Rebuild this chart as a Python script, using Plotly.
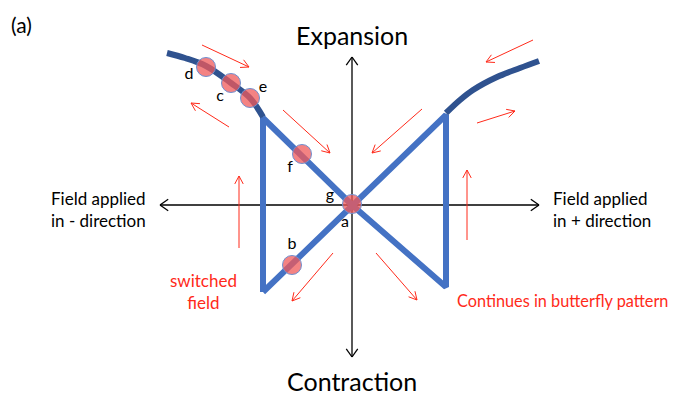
import numpy as np
import plotly.graph_objects as go

# butterfly loop (field, strain) in diagram units
loop_field = [-89, -89, 0, 94, 94, 0, -89]
loop_strain = [-87, 87, 0, -82, 90, 0, -87]

# saturation branches
left_sat_field = [-185, -167, -146, -121, -102, -89]
left_sat_strain = [152, 147, 139, 122, 107, 88]
right_sat_field = [94, 108, 121, 145, 168, 187]
right_sat_strain = [92, 105, 115, 128, 137, 144]

# marked states
pt_names = ["d", "c", "e", "f", "a", "b"]
pt_field = [-146, -121, -102, -50, 0, -60]
pt_strain = [138, 122, 107, 51, 1, -60]
lbl_names = ["d", "c", "e", "f", "g", "a", "b"]
lbl_field = [-163, -132, -89, -62, -22, -7, -60]
lbl_strain = [130, 108, 117, 37, 9, -18, -40]

# red direction arrows: tail -> tip
arr_tail_x = [-150, -123, -69, 181, 125, 70, -113, 115, -19, 24]
arr_tail_y = [160, 78, 95, 165, 82, 96, -43, -35, -48, -48]
arr_tip_x = [-103, -161, -22, 134, 163, 20, -113, 115, -60, 65]
arr_tip_y = [138, 102, 52, 143, 94, 52, 29, 35, -96, -95]


def arrows(tx, ty, hx, hy, L=9, ang=28, shaft=True):
    xs, ys = [], []
    a = np.radians(ang)
    for x0, y0, x1, y1 in zip(tx, ty, hx, hy):
        d = np.array([x1 - x0, y1 - y0], float)
        n = np.hypot(*d)
        if n == 0:
            continue
        if shaft:
            xs += [x0, x1, None]
            ys += [y0, y1, None]
        d = d / n
        for s in (a, -a):
            r = np.array([d[0] * np.cos(s) - d[1] * np.sin(s),
                          d[0] * np.sin(s) + d[1] * np.cos(s)])
            xs += [x1 - L * r[0], x1, None]
            ys += [y1 - L * r[1], y1, None]
    return xs, ys


fig = go.Figure()

# axes with open arrow heads
fig.add_trace(go.Scatter(x=[-192, 187, None, 0, 0], y=[0, 0, None, -152, 148],
                         mode="lines", line=dict(color="black", width=1.3),
                         hoverinfo="skip"))
hx, hy = arrows([0, 0, 0, 0], [0, 0, 0, 0], [-192, 187, 0, 0], [0, 0, 148, -152],
                L=10, ang=35, shaft=False)
fig.add_trace(go.Scatter(x=hx, y=hy, mode="lines",
                         line=dict(color="black", width=1.3), hoverinfo="skip"))

# red arrows
rx, ry = arrows(arr_tail_x, arr_tail_y, arr_tip_x, arr_tip_y)
fig.add_trace(go.Scatter(x=rx, y=ry, mode="lines",
                         line=dict(color="#FF2A1A", width=1), hoverinfo="skip"))

# butterfly
fig.add_trace(go.Scatter(x=loop_field, y=loop_strain, mode="lines",
                         line=dict(color="#4472C4", width=6)))
fig.add_trace(go.Scatter(x=left_sat_field, y=left_sat_strain, mode="lines",
                         line=dict(color="#2F528F", width=6, shape="spline")))
fig.add_trace(go.Scatter(x=right_sat_field, y=right_sat_strain, mode="lines",
                         line=dict(color="#2F528F", width=6, shape="spline")))

# states
fig.add_trace(go.Scatter(x=pt_field, y=pt_strain, mode="markers",
                         marker=dict(size=19, color="rgba(240,90,90,0.75)",
                                     line=dict(color="#6F8FD0", width=1))))
fig.add_trace(go.Scatter(x=lbl_field, y=lbl_strain, mode="text", text=lbl_names,
                         textfont=dict(family="Lato", size=16, color="black")))

font = "Lato"
ann = [
    dict(x=0, y=170, text="Expansion", size=25, color="black", xa="center"),
    dict(x=0, y=-176, text="Contraction", size=25, color="black", xa="center"),
    dict(x=-343, y=181, text="(a)", size=21, color="black", xa="left"),
    dict(x=-303, y=-4, text="Field applied<br>in - direction", size=17, color="black", xa="left"),
    dict(x=199, y=-4, text="Field applied<br>in + direction", size=17, color="black", xa="left"),
    dict(x=-149, y=-86, text="switched<br>field", size=17, color="#FF2A1A", xa="center"),
    dict(x=103, y=-95, text="Continues in butterfly pattern", size=16.3, color="#FF2A1A", xa="left"),
]
for a in ann:
    fig.add_annotation(x=a["x"], y=a["y"], text=a["text"], showarrow=False,
                       xanchor=a["xa"], yanchor="middle",
                       align="left" if a["xa"] == "left" else "center",
                       font=dict(family=font, size=a["size"], color=a["color"]))

# page body adds an 8px margin, so the figure is 8px smaller and shifted
fig.update_layout(width=673, height=389, margin=dict(l=0, r=0, t=0, b=0),
                  paper_bgcolor="white", plot_bgcolor="white", showlegend=False,
                  xaxis=dict(range=[-344, 329], visible=False, fixedrange=True),
                  yaxis=dict(range=[-192, 197], visible=False, fixedrange=True))
fig.write_html("out.html")
